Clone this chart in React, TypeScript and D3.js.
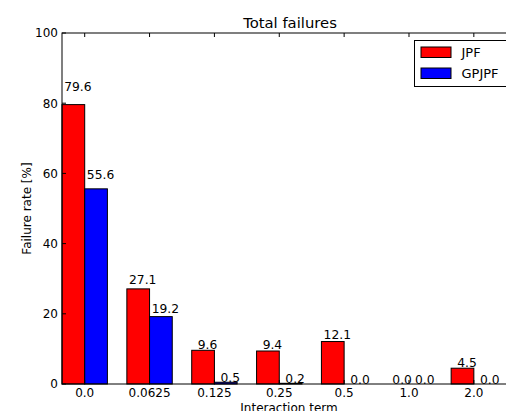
import React from "react";
import * as d3 from "d3";

const categories = ["0.0", "0.0625", "0.125", "0.25", "0.5", "1.0", "2.0"];
const jpfValues = [79.6, 27.1, 9.6, 9.4, 12.1, 0.0, 4.5];
const gpjpfValues = [55.6, 19.2, 0.5, 0.2, 0.0, 0.0, 0.0];
const yTicks = [0, 20, 40, 60, 80, 100];
const seriesNames = ["JPF", "GPJPF"];
const seriesColors = ["#ff0000", "#0000ff"];

const W = 506;
const H = 411;
const left = 62;
const top = 33;
const plotW = 454;
const bottom = 384;
const barWidth = 0.35;
const font = "DejaVu Sans, sans-serif";

export default function App() {
  const x = d3.scaleLinear().domain([0, 7]).range([left, left + plotW]);
  const y = d3.scaleLinear().domain([0, 100]).range([bottom, top]);
  const series = [jpfValues, gpjpfValues];
  const right = left + plotW;

  return (
    <svg
      width={W}
      height={H}
      style={{ position: "absolute", left: 0, top: 0, background: "#fff" }}
      fontFamily={font}
    >
      <rect x={0} y={0} width={W} height={H} fill="#fff" />
      {/* bars */}
      {series.map((vals, s) =>
        vals.map((v, i) => {
          const x0 = x(i + s * barWidth);
          const x1 = x(i + (s + 1) * barWidth);
          return (
            <rect
              key={`b${s}-${i}`}
              x={x0}
              y={y(v)}
              width={x1 - x0}
              height={y(0) - y(v)}
              fill={seriesColors[s]}
              stroke="#000"
              strokeWidth={1}
            />
          );
        })
      )}
      {/* value labels */}
      {series.map((vals, s) =>
        vals.map((v, i) => {
          const cx = x(i + (s + 0.5) * barWidth) + 4.5;
          return (
            <text
              key={`l${s}-${i}`}
              x={cx}
              y={y(v * 1.05)}
              textAnchor="middle"
              fontSize={12.3}
              fill="#000"
            >
              {v.toFixed(1)}
            </text>
          );
        })
      )}
      {/* frame */}
      <rect
        x={left}
        y={top}
        width={plotW}
        height={bottom - top}
        fill="none"
        stroke="#000"
        strokeWidth={1}
      />
      {/* y ticks */}
      {yTicks.map((t) => (
        <g key={`yt${t}`}>
          <line x1={left} x2={left + 4} y1={y(t)} y2={y(t)} stroke="#000" />
          <line x1={right} x2={right - 4} y1={y(t)} y2={y(t)} stroke="#000" />
          <text
            x={left - 4}
            y={y(t)}
            dy="0.36em"
            textAnchor="end"
            fontSize={12}
            fill="#000"
          >
            {t}
          </text>
        </g>
      ))}
      {/* x ticks */}
      {categories.map((c, i) => {
        const tx = x(i + barWidth);
        return (
          <g key={`xt${c}`}>
            <line x1={tx} x2={tx} y1={bottom} y2={bottom - 4} stroke="#000" />
            <line x1={tx} x2={tx} y1={top} y2={top + 4} stroke="#000" />
            <text x={tx} y={bottom + 13} textAnchor="middle" fontSize={12} fill="#000">
              {c}
            </text>
          </g>
        );
      })}
      {/* titles */}
      <text x={left + plotW / 2 + 1} y={28} textAnchor="middle" fontSize={14.8} fill="#000">
        Total failures
      </text>
      <text x={left + plotW / 2} y={411.5} textAnchor="middle" fontSize={12} fill="#000">
        Interaction term
      </text>
      <text
        transform={`translate(31, ${(top + bottom) / 2}) rotate(-90)`}
        textAnchor="middle"
        fontSize={12}
        fill="#000"
      >
        Failure rate [%]
      </text>
      {/* legend */}
      <g>
        <rect x={414.5} y={40.5} width={95} height={46} fill="#fff" stroke="#000" strokeWidth={1} />
        {seriesNames.map((n, s) => (
          <g key={`lg${n}`}>
            <rect
              x={421}
              y={47 + s * 21}
              width={30}
              height={10.5}
              fill={seriesColors[s]}
              stroke="#000"
              strokeWidth={1}
            />
            <text x={461.5} y={52.5 + s * 21} dy="0.36em" fontSize={13} fill="#000">
              {n}
            </text>
          </g>
        ))}
      </g>
    </svg>
  );
}
